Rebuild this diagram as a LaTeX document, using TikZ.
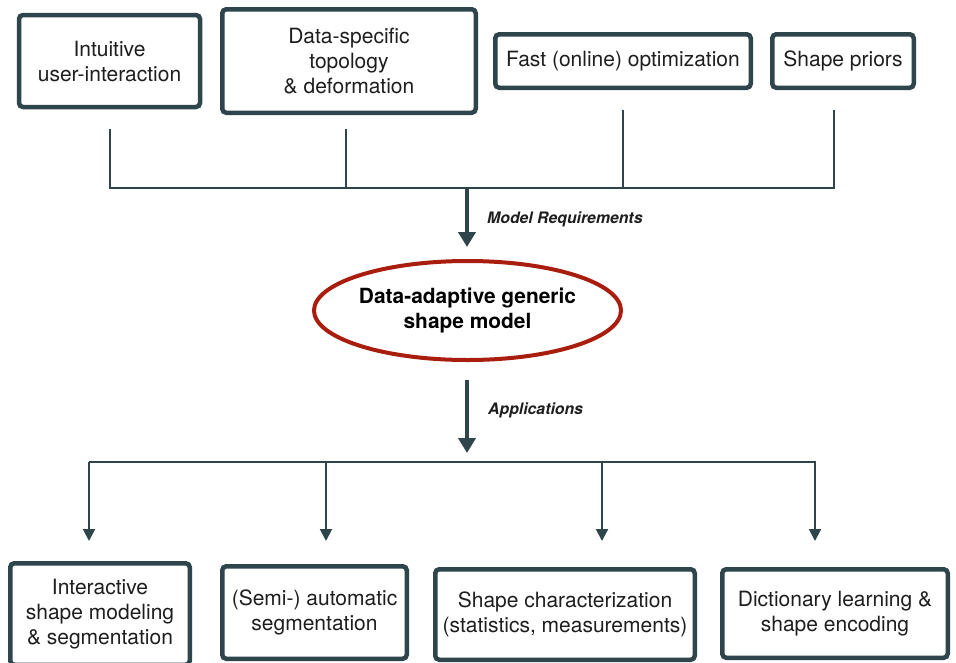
\documentclass[tikz,border=0pt]{standalone}
\usepackage{fontspec}
\setmainfont{TeX Gyre Heros}
\usetikzlibrary{arrows.meta,shapes.geometric,calc}
\definecolor{slate}{HTML}{2E454B}
\definecolor{ellred}{HTML}{A81D0D}
\definecolor{txt}{HTML}{1E1E1E}
\begin{document}
\begin{tikzpicture}[x=1pt,y=-1pt,
  box/.style={draw=slate,line width=4.5pt,rounded corners=4pt,fill=white,
    inner sep=0pt,align=center,text=txt,font=\fontsize{21}{25}\selectfont},
  bus/.style={draw=slate,line width=2pt},
  bigarrow/.style={draw=slate,line width=4pt,-{Triangle[width=17pt,length=15pt]}},
  smallarrow/.style={draw=slate,line width=2pt,-{Triangle[width=12pt,length=12pt]}},
  lbl/.style={anchor=west,inner sep=0pt,text=txt,font=\fontsize{15.8}{18}\selectfont\bfseries\itshape}]
\useasboundingbox[fill=white] (0,0) rectangle (956,662);
% top requirement boxes
\node[box,minimum width=181pt,minimum height=92pt] (t1) at (109.5,61) {Intuitive\\user-interaction};
\node[box,minimum width=253.5pt,minimum height=103.5pt] (t2) at (349,61) {Data-specific\\topology\\\& deformation};
\node[box,minimum width=255.5pt,minimum height=53.5pt] (t3) at (623,61) {Fast (online) optimization};
\node[box,minimum width=141.5pt,minimum height=53.5pt] (t4) at (843,61) {Shape priors};
% central ellipse
\node[ellipse,draw=ellred,line width=4pt,minimum width=291pt,minimum height=99pt,inner sep=0pt,
  align=center,text=black,font=\fontsize{20.9}{25}\selectfont\bfseries] (ell) at (467.5,310.5)
  {Data-adaptive generic\\shape model};
% bottom application boxes
\node[box,minimum width=179.5pt,minimum height=101.5pt] (b1) at (100,614) {Interactive\\shape modeling\\\& segmentation};
\node[box,minimum width=184.5pt,minimum height=92.5pt] (b2) at (314.5,612.5) {(Semi-) automatic\\segmentation};
\node[box,minimum width=259.5pt,minimum height=90.5pt] (b3) at (565,614.5) {Shape characterization\\(statistics, measurements)};
\node[box,minimum width=225.5pt,minimum height=88.5pt] (b4) at (835,613.5) {Dictionary learning \&\\shape encoding};
% top bus coordinates
\coordinate (u1) at (110,129); \coordinate (d1) at (110,188);
\coordinate (u2) at (346,129); \coordinate (d2) at (346,188);
\coordinate (u3) at (623,110); \coordinate (d3) at (623,188);
\coordinate (u4) at (834,110); \coordinate (d4) at (834,188);
\draw[bus] (u1) -- (d1) -- (d4) -- (u4);
\draw[bus] (u2) -- (d2);
\draw[bus] (u3) -- (d3);
% requirement arrow
\coordinate (m1) at (467,188);
\coordinate (m2) at (467,247);
\draw[bigarrow] (m1) -- (m2);
\node[lbl] (lreq) at (487,219) {Model Requirements};
% application arrow
\coordinate (a1) at (467,380);
\coordinate (a2) at (467,453);
\draw[bigarrow] (a1) -- (a2);
\node[lbl] (lapp) at (488,410) {Applications};
% bottom bus
\coordinate (h1) at (89,462); \coordinate (h4) at (816,462);
\coordinate (h2) at (326,462); \coordinate (h3) at (602,462);
\coordinate (e1) at (89,541); \coordinate (e2) at (326,541);
\coordinate (e3) at (602,541); \coordinate (e4) at (815,541);
\coordinate (h5) at (815,462);
\draw[bus] (h1) -- (h4);
\draw[smallarrow] (h1) -- (e1);
\draw[smallarrow] (h2) -- (e2);
\draw[smallarrow] (h3) -- (e3);
\draw[smallarrow] (h5) -- (e4);
\end{tikzpicture}
\end{document}
